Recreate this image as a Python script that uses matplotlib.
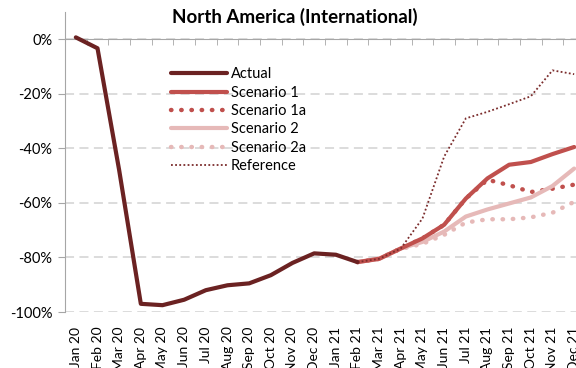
import numpy as np
import matplotlib
matplotlib.use("Agg")
import matplotlib.pyplot as plt
from matplotlib.ticker import FuncFormatter

plt.rcParams['font.family'] = ['Lato', 'DejaVu Sans']

months = ['Jan 20', 'Feb 20', 'Mar 20', 'Apr 20', 'May 20', 'Jun 20', 'Jul 20',
          'Aug 20', 'Sep 20', 'Oct 20', 'Nov 20', 'Dec 20', 'Jan 21', 'Feb 21',
          'Mar 21', 'Apr 21', 'May 21', 'Jun 21', 'Jul 21', 'Aug 21', 'Sep 21',
          'Oct 21', 'Nov 21', 'Dec 21']

# change vs. 2019, in percent
actual = [0.7, -3.3, -48, -97, -97.5, -95.5, -92, -90.2, -89.5, -86.5, -82,
          -78.5, -79, -81.7]
# forecasts start at Feb 21
scenario_1 = [-81.7, -80.5, -76.7, -73, -68, -58.4, -51, -46, -45, -42.1, -39.5]
scenario_1a = [-81.7, -80.5, -76.7, -73, -68, -58.4, -51.5, -53.5, -56, -54.8, -53.3]
scenario_2 = [-81.7, -80.5, -76.7, -74.3, -70.5, -65, -62.4, -60.2, -58, -53.8, -47.4]
scenario_2a = [-81.7, -80.5, -76.9, -75, -71.7, -67.2, -66, -66, -65.3, -63.6, -59.6]
reference = [-81.7, -80.5, -76.7, -65.7, -43, -29, -26.6, -23.8, -20.9, -11.4, -12.8]

x_all = np.arange(len(months))
x_act = x_all[:len(actual)]
x_fc = x_all[len(actual) - 1:]

c_actual = '#6B2222'
c_s1 = '#C0504D'
c_s2 = '#E6B9B8'
c_ref = '#7B2C2C'
grey = '#A6A6A6'

fig = plt.figure(figsize=(5.76, 3.68), dpi=100)
ax = fig.add_axes([65 / 576, 56 / 368, 520 / 576, 300 / 368])

dots = (0, (0.1, 2.2))
ax.plot(x_fc, scenario_2a, color=c_s2, lw=3.2, ls=dots, dash_capstyle='round', label='Scenario 2a', zorder=2)
ax.plot(x_fc, scenario_1a, color=c_s1, lw=3.2, ls=dots, dash_capstyle='round', label='Scenario 1a', zorder=3)
ax.plot(x_fc, scenario_2, color=c_s2, lw=3, solid_capstyle='round', label='Scenario 2', zorder=4)
ax.plot(x_fc, scenario_1, color=c_s1, lw=3, solid_capstyle='round', label='Scenario 1', zorder=5)
ax.plot(x_fc, reference, color=c_ref, lw=1.3, ls=(0, (1, 1.3)), label='Reference', zorder=6)
ax.plot(x_act, actual, color=c_actual, lw=3, solid_capstyle='round', label='Actual', zorder=7)

ax.set_xlim(-0.5, 23.5)
ax.set_ylim(-100, 10)

# y axis
ax.set_yticks(np.arange(-100, 1, 20))
ax.yaxis.set_major_formatter(FuncFormatter(lambda v, p: '%d%%' % round(v)))
ax.grid(axis='y', color='#D9D9D9', lw=1.3, ls=(0, (5, 3)))
ax.set_axisbelow(True)

# category axis crosses at 0%, labels stay at the bottom
ax.spines['top'].set_position(('data', 0))
ax.spines['top'].set_color(grey)
ax.spines['left'].set_color(grey)
ax.spines['bottom'].set_visible(False)
ax.spines['right'].set_visible(False)
ax.set_xticks(x_all)
ax.set_xticklabels(months, rotation=90)
ax.set_xticks(np.arange(-0.5, 24, 1), minor=True)
ax.tick_params(axis='x', which='major', bottom=False, top=False, labelbottom=True,
               labeltop=False, labelsize=10, pad=7)
ax.tick_params(axis='x', which='minor', bottom=False, top=True, direction='in',
               length=4, color=grey)
ax.tick_params(axis='y', which='major', left=True, direction='out', length=5,
               color=grey, labelsize=10.5, pad=4)

handles, labels = ax.get_legend_handles_labels()
order = ['Actual', 'Scenario 1', 'Scenario 1a', 'Scenario 2', 'Scenario 2a', 'Reference']
hmap = dict(zip(labels, handles))
ax.legend([hmap[k] for k in order], order, loc='upper left',
          bbox_to_anchor=(0.19, 0.84), frameon=False, fontsize=10.5,
          handlelength=3.8, handletextpad=0.3, labelspacing=0.3, borderpad=0)

fig.text(295 / 576, 1 - 17 / 368, 'North America (International)', ha='center',
         va='center', fontsize=13.5, fontweight='bold')

fig.savefig('out.png', dpi=100)
